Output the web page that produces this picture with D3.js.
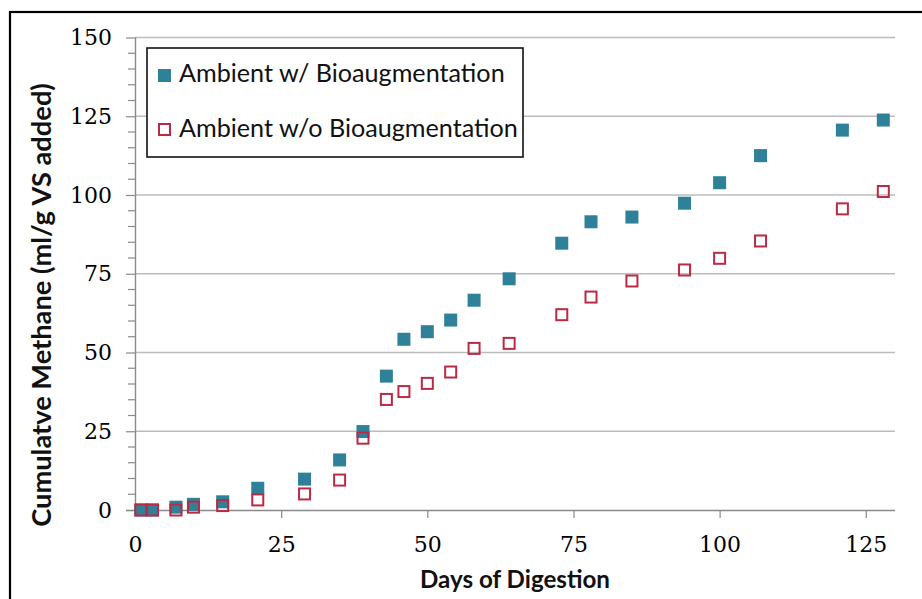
<!DOCTYPE html>
<meta charset="utf-8">
<style>
    body { margin: 0; background: #fff; }
    .tick text { font-family: "DejaVu Serif", serif; fill: #000; }
    .lbl { font-family: Lato, "Open Sans", sans-serif; fill: #111; }
</style>
<body>
<script src="https://cdn.jsdelivr.net/npm/d3@7"></script>
<script>

    var width = 922;
    var height = 599;

    // data
    var days = [1, 3, 7, 10, 15, 21, 29, 35, 39, 43, 46, 50, 54, 58, 64, 73, 78, 85, 94, 100, 107, 121, 128];
    var withBio = [0, 0, 0.9, 1.8, 2.6, 6.9, 9.8, 15.9, 24.9, 42.5, 54.2, 56.6, 60.3, 66.6, 73.4, 84.7, 91.5, 93, 97.4, 103.9, 112.5, 120.6, 123.8];
    var withoutBio = [0, 0, 0, 0.9, 1.4, 3.2, 5.1, 9.5, 22.8, 35.1, 37.6, 40.2, 43.8, 51.3, 52.9, 62, 67.6, 72.7, 76.2, 79.9, 85.4, 95.6, 101.1];
    var xTicks = [0, 25, 50, 75, 100, 125];
    var yTicks = [0, 25, 50, 75, 100, 125, 150];
    var seriesNames = ["Ambient w/ Bioaugmentation", "Ambient w/o Bioaugmentation"];

    var TEAL = "#2f8199";
    var RED = "#bb2a44";
    var MARK = 13;

    var svg = d3.select("body").append("svg")
        .attr("width", width)
        .attr("height", height);

    // outer chart frame (runs off the right and bottom)
    svg.append("rect")
        .attr("x", 10).attr("y", 12)
        .attr("width", 1000).attr("height", 1000)
        .attr("fill", "none")
        .attr("stroke", "#000")
        .attr("stroke-width", 2.2);

    var x = d3.scaleLinear().domain([0, 130]).range([135, 895]);
    var y = d3.scaleLinear().domain([0, 150]).range([510, 37.5]);

    // gridlines
    svg.append("g")
        .selectAll("line")
        .data(yTicks.filter(function (d) { return d > 0; }))
        .enter().append("line")
        .attr("x1", x(0)).attr("x2", x(130))
        .attr("y1", function (d) { return y(d); })
        .attr("y2", function (d) { return y(d); })
        .attr("stroke", "#bcbcbc")
        .attr("stroke-width", 1.4);

    // y minor ticks every 5
    svg.append("g")
        .selectAll("line")
        .data(d3.range(5, 150, 5).filter(function (d) { return d % 25 !== 0; }))
        .enter().append("line")
        .attr("x1", 128).attr("x2", x(0))
        .attr("y1", function (d) { return y(d); })
        .attr("y2", function (d) { return y(d); })
        .attr("stroke", "#8a8a8a")
        .attr("stroke-width", 1.2);

    var yAxis = svg.append("g")
        .attr("transform", "translate(" + x(0) + ",0)")
        .call(d3.axisLeft(y).tickValues(yTicks).tickSize(9).tickPadding(14));

    var xAxis = svg.append("g")
        .attr("transform", "translate(0," + y(0) + ")")
        .call(d3.axisBottom(x).tickValues(xTicks).tickSize(8).tickPadding(18));

    [yAxis, xAxis].forEach(function (g) {
        g.select(".domain").attr("stroke", "#8a8a8a").attr("stroke-width", 1.4);
        g.selectAll(".tick line").attr("stroke", "#8a8a8a").attr("stroke-width", 1.2);
        g.selectAll(".tick text").style("font-size", "22px").attr("fill", "#000");
    });
    // x axis line starts at the left tick stub, no tick under the origin
    xAxis.select(".domain").attr("d", "M126,0.5H" + x(130));
    xAxis.selectAll(".tick").filter(function (d) { return d === 0; }).select("line").remove();
    yAxis.select(".domain").attr("d", "M0.5," + y(150) + "V" + y(0));

    // markers
    svg.append("g")
        .selectAll("rect")
        .data(days)
        .enter().append("rect")
        .attr("x", function (d) { return x(d) - MARK / 2; })
        .attr("y", function (d, i) { return y(withBio[i]) - MARK / 2; })
        .attr("width", MARK).attr("height", MARK)
        .attr("fill", TEAL);

    svg.append("g")
        .selectAll("rect")
        .data(days)
        .enter().append("rect")
        .attr("x", function (d) { return x(d) - (MARK - 2) / 2; })
        .attr("y", function (d, i) { return y(withoutBio[i]) - (MARK - 2) / 2; })
        .attr("width", MARK - 2).attr("height", MARK - 2)
        .attr("fill", "none")
        .attr("stroke", RED)
        .attr("stroke-width", 2);

    function fit(text, target) {
        var w = text.node().getComputedTextLength();
        var fs = parseFloat(text.style("font-size"));
        text.style("font-size", (fs * target / w) + "px");
    }

    // axis titles
    var xt = svg.append("text").attr("class", "lbl")
        .attr("x", 515).attr("y", 588)
        .attr("text-anchor", "middle")
        .style("font-weight", "bold").style("font-size", "22px")
        .text("Days of Digestion");
    fit(xt, 190);

    var yt = svg.append("text").attr("class", "lbl")
        .attr("transform", "translate(51,305) rotate(-90)")
        .attr("text-anchor", "middle")
        .style("font-weight", "bold").style("font-size", "22px")
        .text("Cumulatve Methane (ml/g VS added)");
    fit(yt, 444);

    // legend
    var legend = svg.append("g");
    legend.append("rect")
        .attr("x", 147).attr("y", 48)
        .attr("width", 376).attr("height", 109)
        .attr("fill", "#fff")
        .attr("stroke", "#111")
        .attr("stroke-width", 1.6);

    legend.append("rect")
        .attr("x", 158).attr("y", 69)
        .attr("width", MARK).attr("height", MARK)
        .attr("fill", TEAL);
    legend.append("rect")
        .attr("x", 159).attr("y", 124)
        .attr("width", MARK - 2).attr("height", MARK - 2)
        .attr("fill", "none")
        .attr("stroke", RED)
        .attr("stroke-width", 2);

    var l1 = legend.append("text").attr("class", "lbl")
        .attr("x", 179).attr("y", 82)
        .style("font-size", "20px")
        .text(seriesNames[0]);
    var l2 = legend.append("text").attr("class", "lbl")
        .attr("x", 179).attr("y", 137)
        .style("font-size", "20px")
        .text(seriesNames[1]);
    fit(l2, 339);
    l1.style("font-size", l2.style("font-size"));

</script>
</body>
</html>
